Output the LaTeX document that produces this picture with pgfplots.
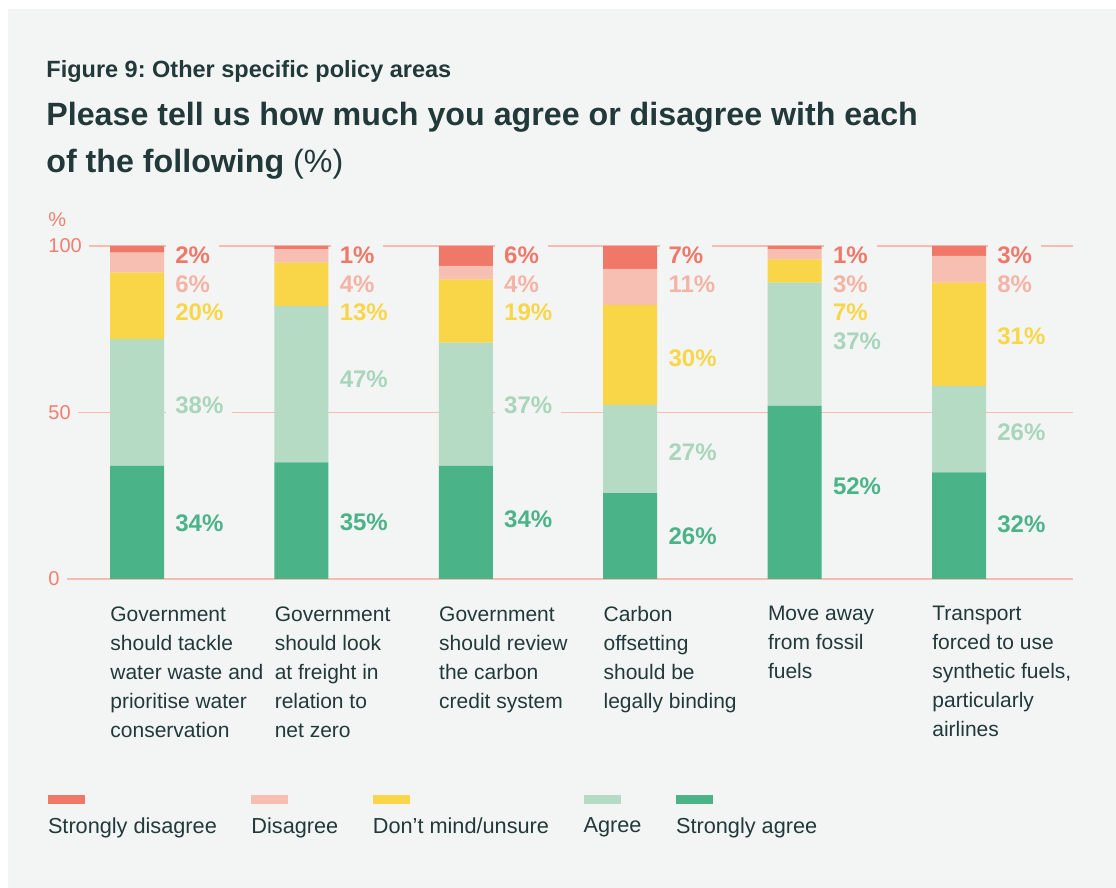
\documentclass[border=0pt]{standalone}
\usepackage{fontspec}
\setmainfont{Liberation Sans}
\usepackage{pgfplots}
\pgfplotsset{compat=1.18}
\usepackage{pgfplotstable}
\frenchspacing

\definecolor{bgcol}{HTML}{F3F5F4}
\definecolor{sdcol}{HTML}{F07869}
\definecolor{dcol}{HTML}{F7BFB2}
\definecolor{dmcol}{HTML}{F9D648}
\definecolor{acol}{HTML}{B5DBC5}
\definecolor{sacol}{HTML}{4AB388}
\definecolor{dlab}{HTML}{F5B3A6}
\definecolor{alab}{HTML}{A8D5BB}
\definecolor{gridcol}{HTML}{F7BCB1}
\definecolor{axtext}{HTML}{F07F70}
\definecolor{dark}{HTML}{22393A}

% stacked bar heights (%), bottom to top
\pgfplotstableread{
x sa a dm d sd
0 34 38 20 6 2
1 35 47 13 4 1
2 34 37 19 4 6
3 25.8 26.5 30 10.8 6.9
4 52 37 7 3 1
5 32 26 31 8 3
}\bars

% value labels: y position and printed value
\pgfplotstableread{
x ysd tsd yd td ydm tdm ya ta ysa tsa
0 97.3 2 88.6 6 80.2 20 52.3 38 16.8 34
1 97.3 1 88.6 4 80.2 13 60.1 47 17.1 35
2 97.3 6 88.6 4 80.2 19 52.3 37 18.0 34
3 97.3 7 88.6 11 66.4 30 38.1 27 12.9 26
4 97.3 1 88.6 3 80.2 7 71.5 37 27.9 52
5 97.3 3 88.6 8 73.0 31 44.1 26 16.5 32
}\labs

\pgfplotsset{
  myaxis/.style={at={(24pt,154.5pt)}, anchor=south west,
    width=512.5pt, height=166.5pt, scale only axis,
    xmin=-0.5414, xmax=5.6934, ymin=0, ymax=100,
    axis line style={draw=none}, major tick length=0pt},
  lab/.style={draw=none, mark=none,
    nodes near coords={\pgfplotspointmeta\%}, point meta=explicit symbolic,
    nodes near coords style={anchor=west, xshift=14.5pt,
      font=\fontsize{12}{12}\selectfont\bfseries, text=#1,
      fill=bgcol, inner xsep=4.5pt, inner ysep=1.5pt}},
  swatch/.style={fill=#1, draw=none,
    legend image code/.code={\fill[overlay] (0pt,11.25pt) rectangle (18.5pt,15.75pt);}}
}

\begin{document}
\begin{tikzpicture}
\path[use as bounding box] (0,0) rectangle (558pt,444pt);
\fill[white] (0,0) rectangle (558pt,444pt);
\fill[bgcol] (4pt,0) rectangle (558pt,439.5pt);

\node[anchor=base west, inner sep=0, text=dark, font=\fontsize{11.75}{13}\selectfont\bfseries]
  at (23pt,405pt) {Figure 9: Other specific policy areas};
\node[anchor=base west, inner sep=0, text=dark, font=\fontsize{16.1}{19}\selectfont\bfseries]
  at (23pt,381pt) {Please tell us how much you agree or disagree with each};
\node[anchor=base west, inner sep=0, text=dark, font=\fontsize{16.1}{19}\selectfont]
  at (23pt,357.75pt) {\textbf{of the following} (\%)};

\begin{axis}[myaxis,
  ybar stacked, bar width=27pt,
  ytick={0,50,100},
  /pgf/number format/assume math mode=true,
  ymajorgrids, grid style={gridcol, line width=0.75pt},
  yticklabel style={anchor=west, xshift=-3.5pt, fill=bgcol, inner xsep=3.5pt,
    text=axtext, font=\fontsize{10}{12}\selectfont},
  xtick={0,1,2,3,4,5},
  xticklabels={{Government\\should tackle\\water waste and\\prioritise water\\conservation},
    {Government\\should look\\at freight in\\relation to\\net zero},
    {Government\\should review\\the carbon\\credit system},
    {Carbon\\offsetting\\should be\\legally binding},
    {Move away\\from fossil\\fuels},
    {Transport\\forced to use\\synthetic fuels,\\particularly\\airlines}},
  xticklabel style={anchor=north west, inner sep=0pt, xshift=-13.5pt, yshift=-13.5pt,
    align=left, text=dark, font=\fontsize{10.5}{14.5}\selectfont},
  legend columns=5,
  legend style={at={(axis description cs:0,-0.7159)}, anchor=north west,
    draw=none, fill=none, inner sep=0pt, outer sep=0pt,
    font=\fontsize{10.85}{13}\selectfont, text=dark,
    cells={anchor=base west}, nodes={inner sep=0pt},
    /tikz/every even column/.append style={column sep=17.3pt}},
  legend cell align=left,
]
\addlegendimage{swatch=sdcol}
\addlegendimage{swatch=dcol}
\addlegendimage{swatch=dmcol}
\addlegendimage{swatch=acol}
\addlegendimage{swatch=sacol}
\addplot[fill=sacol, draw=none] table[x=x, y=sa] {\bars};
\addplot[fill=acol, draw=none] table[x=x, y=a] {\bars};
\addplot[fill=dmcol, draw=none] table[x=x, y=dm] {\bars};
\addplot[fill=dcol, draw=none] table[x=x, y=d] {\bars};
\addplot[fill=sdcol, draw=none] table[x=x, y=sd] {\bars};
\legend{Strongly disagree, Disagree, Don’t mind/unsure, Agree, Strongly agree}
\end{axis}

\begin{axis}[myaxis, xtick=\empty, ytick=\empty, clip=false]
\addplot[lab=sdcol] table[x=x, y=ysd, meta=tsd] {\labs};
\addplot[lab=dlab] table[x=x, y=yd, meta=td] {\labs};
\addplot[lab=dmcol] table[x=x, y=ydm, meta=tdm] {\labs};
\addplot[lab=alab] table[x=x, y=ya, meta=ta] {\labs};
\addplot[lab=sacol] table[x=x, y=ysa, meta=tsa] {\labs};
\node[anchor=west, inner sep=0pt, yshift=13pt, text=axtext, font=\fontsize{10}{12}\selectfont]
  at (rel axis cs:0,1) {\%};
\end{axis}
\end{tikzpicture}
\end{document}
